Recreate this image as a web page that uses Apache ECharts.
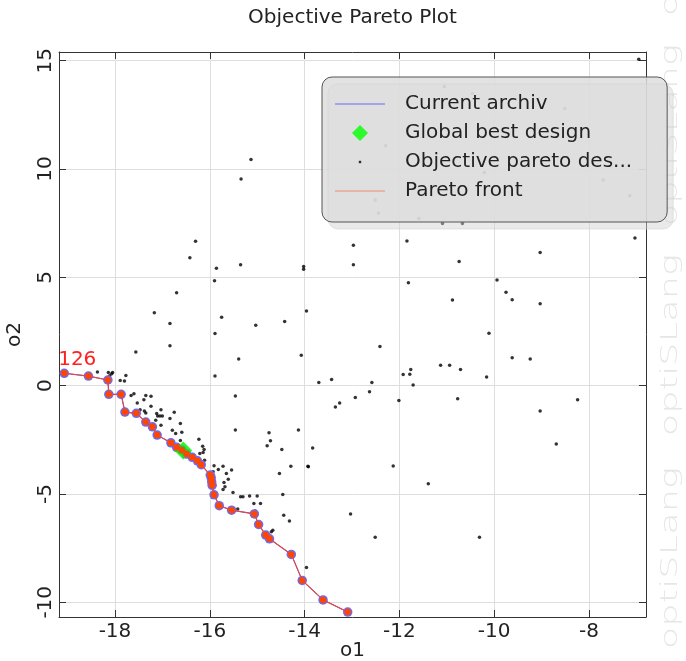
<!DOCTYPE html>
<html>
<head>
<meta charset="utf-8">
<script src="https://cdn.jsdelivr.net/npm/echarts@6/dist/echarts.min.js"></script>
<style>
  html, body { margin: 0; padding: 0; background: #ffffff; }
  #chart { width: 686px; height: 661px; }
</style>
</head>
<body>
<div id="chart"></div>
<script>
// Pareto front of the current archive (o1, o2), in front order
const frontO1 = [-19.07, -18.56, -18.15, -18.13, -17.87, -17.79, -17.55, -17.35, -17.21, -17.11,
  -16.82, -16.70, -16.59, -16.49, -16.37, -16.26, -16.18, -15.99, -15.97, -15.96,
  -15.95, -15.91, -15.80, -15.54, -15.06, -14.97, -14.82, -14.74, -14.28, -14.05,
  -13.61, -13.09];
const frontO2 = [0.57, 0.44, 0.26, -0.40, -0.40, -1.22, -1.28, -1.68, -1.90, -2.28,
  -2.64, -2.85, -2.97, -3.16, -3.31, -3.47, -3.65, -4.13, -4.25, -4.44,
  -4.60, -5.04, -5.54, -5.75, -5.92, -6.41, -6.90, -7.07, -7.79, -8.99,
  -9.89, -10.45];

// Design id printed next to the first front member
const frontIds = ['126'];

// Global best design
const bestO1 = [-16.56];
const bestO2 = [-3.00];

// All evaluated objective designs
const designO1 = [
  -18.37, -18.14, -18.07, -18.05, -18.11, -17.89, -17.80, -17.77, -17.66, -17.60,
  -17.53, -17.47, -17.38, -17.35, -17.35, -17.24, -17.39, -17.24, -17.12, -17.03,
  -17.10, -17.05, -17.00, -16.75, -16.84, -17.14, -17.03, -16.62, -16.79, -16.72,
  -16.59, -16.62, -16.23, -16.15, -16.12, -16.21, -16.14, -16.11, -15.91, -15.93,
  -15.82, -15.72, -15.54, -15.65, -15.61, -15.70, -15.68, -15.72, -15.51, -15.35,
  -15.30, -15.16, -15.00, -15.07, -14.93, -15.41, -15.04, -14.79, -14.72, -14.75,
  -15.46, -15.46, -14.48, -14.53, -14.29, -13.93, -14.46, -14.44, -14.32, -14.70,
  -14.67, -13.96, -14.13, -13.83, -17.56, -15.89, -15.39,
  -15.13, -15.34, -16.30, -16.42, -15.86, -15.35, -14.02, -14.02, -12.97, -12.97,
  -15.90, -16.70, -17.17, -16.84, -15.75, -15.03, -14.42, -13.96, -15.89, -16.84,
  -6.95, -11.05, -10.46, -8.51, -12.29, -10.21, -7.70, -7.14, -12.51, -12.44,
  -11.59, -11.09, -10.67, -7.03, -11.84, -9.03, -10.74, -11.81, -9.94, -9.75,
  -9.62, -9.03, -10.88, -10.11, -12.41, -14.07, -11.13, -10.94, -10.71, -9.62,
  -9.24, -11.92, -11.78, -11.76, -11.71, -10.16, -13.70, -13.43, -12.58, -12.63,
  -12.93, -13.26, -13.35, -12.01, -10.77, -9.03, -8.24, -8.69, -13.92, -12.13,
  -11.39, -13.03, -12.51, -10.31
];
const designO2 = [
  0.63, 0.61, 0.55, 0.61, 0.46, 0.24, 0.21, 0.47, -0.45, -0.37,
  -0.80, -1.11, -1.17, -1.26, -0.45, -0.49, -0.65, -0.95, -1.29, -1.11,
  -1.40, -1.40, -1.40, -1.23, -1.52, -1.60, -1.83, -1.75, -2.06, -2.21,
  -2.15, -2.53, -2.47, -2.80, -2.95, -3.13, -3.09, -3.44, -3.70, -3.98,
  -3.87, -3.72, -3.90, -4.06, -4.32, -4.47, -4.67, -4.79, -4.93, -5.13,
  -5.13, -5.09, -5.09, -5.44, -5.44, -5.70, -5.79, -2.78, -2.55, -2.17,
  -2.05, -0.48, -2.95, -4.06, -3.72, -3.72, -5.02, -5.98, -6.25, -6.75,
  -6.67, -8.39, -2.05, -2.88, 1.55, 0.44, 1.23,
  10.44, 9.54, 6.66, 5.90, 5.42, 5.58, 5.50, 5.37, 6.48, 5.58,
  4.84, 4.29, 3.36, 2.87, 3.16, 2.79, 2.96, 3.44, 2.41, 1.84,
  15.07, 13.81, 13.48, 12.79, 11.07, 9.84, 9.49, 8.76, 8.57, 7.97,
  7.72, 7.48, 7.48, 6.82, 6.68, 6.14, 5.73, 4.75, 4.88, 4.31,
  3.96, 3.78, 3.95, 2.42, 1.81, 1.40, 0.94, 0.94, 0.75, 1.29,
  1.23, 0.51, 0.53, 0.74, 0.03, 0.40, 0.15, 0.28, 0.14, -0.28,
  -0.55, -0.80, -0.99, -0.69, -0.60, -1.17, -0.65, -2.69, -3.75, -3.71,
  -4.53, -5.92, -7.00, -7.00
];

// Axis tick labels
const o1TickLabels = [-18, -16, -14, -12, -10, -8];
const o2TickLabels = [-10, -5, 0, 5, 10, 15];

// Legend entries and their shown text
const legendNames = ['Current archiv', 'Global best design', 'Objective pareto designs', 'Pareto front'];
const legendTexts = ['Current archiv', 'Global best design', 'Objective pareto des...', 'Pareto front'];

const FONT = 'DejaVu Sans';
const TEXT = '#222222';
const FS = 20;

const frontData = frontO1.map((x, i) => {
  const item = { value: [x, frontO2[i]] };
  if (i < frontIds.length) {
    item.label = {
      show: true, formatter: frontIds[i], position: 'top', distance: 1, offset: [13, 1],
      color: '#ff2020', fontSize: FS, fontFamily: FONT
    };
  }
  return item;
});
const archiveData = frontO1.map((x, i) => [x, frontO2[i]]);
const designData = designO1.map((x, i) => [x, designO2[i]]);
const bestData = bestO1.map((x, i) => [x, bestO2[i]]);

const chart = echarts.init(document.getElementById('chart'), null, { renderer: 'canvas' });

const fmt = list => v => (list.indexOf(Math.round(v * 1000) / 1000) >= 0 ? String(v) : '');

// Watermark, repeated down the right margin
const watermark = [-75, 135, 345, 558].map(cy => ({
  type: 'text', x: 671, y: cy, rotation: Math.PI / 2, scaleX: 1.6, silent: true, z: -10,
  style: { text: 'optiSLang', fontSize: 23, fontFamily: FONT, fontWeight: 200,
           fill: '#e6e6e6', align: 'center', verticalAlign: 'middle' }
}));

const axisLine = { show: true, onZero: false, lineStyle: { color: '#333', width: 1 } };
const axisTick = { show: true, inside: true, length: 7, lineStyle: { color: '#333' } };

chart.setOption({
  animation: false,
  backgroundColor: '#ffffff',
  title: {
    text: 'Objective Pareto Plot', left: 352.5, top: 8, padding: 0, textAlign: 'center',
    textStyle: { fontFamily: FONT, fontSize: FS, fontWeight: 'normal', color: TEXT }
  },
  graphic: watermark,
  grid: { left: 59, top: 52, right: 40, bottom: 44, containLabel: false, outerBoundsMode: 'none' },
  xAxis: [{
    type: 'value', min: -19.181, max: -6.797, splitNumber: 6, position: 'bottom',
    name: 'o1', nameLocation: 'middle', nameGap: 24, nameMoveOverlap: false,
    nameTextStyle: { fontFamily: FONT, fontSize: FS, color: TEXT },
    axisLine: axisLine, axisTick: axisTick,
    axisLabel: { show: true, margin: 5, fontFamily: FONT, fontSize: FS, color: TEXT,
                 formatter: fmt(o1TickLabels), showMinLabel: false, showMaxLabel: false },
    splitLine: { show: true, lineStyle: { color: '#dedede', width: 1 } }
  }, {
    type: 'value', min: -19.181, max: -6.797, splitNumber: 6, position: 'top',
    axisLine: axisLine, axisTick: axisTick,
    axisLabel: { show: false }, splitLine: { show: false }
  }],
  yAxis: [{
    type: 'value', min: -10.68, max: 15.40, splitNumber: 5, position: 'left',
    name: 'o2', nameLocation: 'middle', nameGap: 34, nameRotate: 90, nameMoveOverlap: false,
    nameTextStyle: { fontFamily: FONT, fontSize: FS, color: TEXT },
    axisLine: axisLine, axisTick: axisTick,
    axisLabel: { show: true, rotate: 90, margin: 3, fontFamily: FONT, fontSize: FS, color: TEXT,
                 formatter: fmt(o2TickLabels), showMinLabel: false, showMaxLabel: false },
    splitLine: { show: true, lineStyle: { color: '#dedede', width: 1 } }
  }, {
    type: 'value', min: -10.68, max: 15.40, splitNumber: 5, position: 'right',
    axisLine: axisLine, axisTick: axisTick,
    axisLabel: { show: false }, splitLine: { show: false }
  }],
  legend: {
    orient: 'vertical', left: 322, top: 77, itemWidth: 50, itemHeight: 18, itemGap: 9,
    padding: [17, 35, 21, 13], selectedMode: false,
    backgroundColor: 'rgba(221,221,221,0.86)', borderColor: '#555555', borderWidth: 1, borderRadius: 10,
    shadowColor: 'rgba(210,210,210,0.55)', shadowBlur: 0, shadowOffsetX: 6, shadowOffsetY: 7,
    textStyle: { fontFamily: FONT, fontSize: FS, color: TEXT, padding: [0, 0, 0, 15] },
    formatter: name => legendTexts[legendNames.indexOf(name)],
    data: [
      { name: legendNames[0], icon: 'path://M0,0M50,18M0,8.5h50v1h-50z', itemStyle: { color: '#6a6af2' } },
      { name: legendNames[1], icon: 'path://M0,0M50,18M25,1L33,9L25,17L17,9Z', itemStyle: { color: '#00ff00' } },
      { name: legendNames[2], icon: 'path://M0,0M50,18M23.8,7.8h2.4v2.4h-2.4z', itemStyle: { color: '#000000' } },
      { name: legendNames[3], icon: 'path://M0,0M50,18M0,8.5h50v1h-50z', itemStyle: { color: '#f08a72' } }
    ]
  },
  series: [{
    name: legendNames[2], type: 'scatter', data: designData, symbol: 'circle', symbolSize: 3.5,
    itemStyle: { color: '#000000' }, silent: true, z: 2
  }, {
    name: legendNames[0], type: 'line', data: archiveData, symbol: 'circle', symbolSize: 9.5,
    showAllSymbol: true, itemStyle: { color: '#6b6bf4' }, lineStyle: { color: '#5a5af0', width: 1 },
    emphasis: { disabled: true }, silent: true, z: 3
  }, {
    name: legendNames[1], type: 'scatter', data: bestData, symbol: 'diamond', symbolSize: 18,
    itemStyle: { color: '#00ee00' }, silent: true, z: 4
  }, {
    name: legendNames[3], type: 'line', data: frontData, symbol: 'circle', symbolSize: 6.5,
    showAllSymbol: true, itemStyle: { color: '#ff4500' }, lineStyle: { color: '#dd4848', width: 1.2 },
    emphasis: { disabled: true }, silent: true, z: 5
  }]
});
</script>
</body>
</html>
